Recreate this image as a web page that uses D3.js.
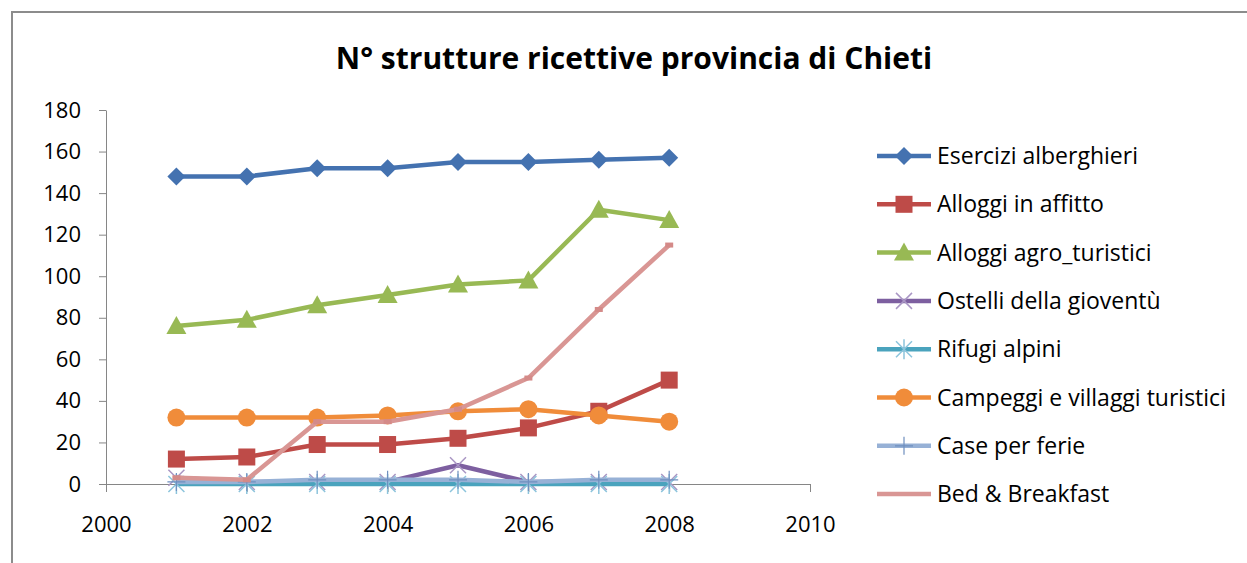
<!DOCTYPE html>
<html>
<head>
<meta charset="utf-8">
<script src="https://cdn.jsdelivr.net/npm/d3@7"></script>
<style>
  body { margin: 0; background: #fff; }
  svg text { font-family: "Open Sans", "Noto Sans", sans-serif; fill: #000; }
</style>
</head>
<body>
<div id="chart"></div>
<script>
// data
const years = [2001, 2002, 2003, 2004, 2005, 2006, 2007, 2008];
const xTicks = [2000, 2002, 2004, 2006, 2008, 2010];
const yTicks = [0, 20, 40, 60, 80, 100, 120, 140, 160, 180];

const esercizi   = [148, 148, 152, 152, 155, 155, 156, 157];
const affitto    = [12, 13, 19, 19, 22, 27, 35, 50];
const agro       = [76, 79, 86, 91, 96, 98, 132, 127];
const ostelli    = [3, 1, 1, 1, 9, 1, 1, 1];
const rifugi     = [0, 0, 0, 0, 0, 0, 0, 0];
const campeggi   = [32, 32, 32, 33, 35, 36, 33, 30];
const caseFerie  = [1, 1, 2, 2, 2, 1, 2, 2];
const bnb        = [3, 2, 30, 30, 36, 51, 84, 115];

const series = [
  { name: "Esercizi alberghieri", values: esercizi, color: "#4472b0", marker: "diamond" },
  { name: "Alloggi in affitto", values: affitto, color: "#be4b48", marker: "square" },
  { name: "Alloggi agro_turistici", values: agro, color: "#98b954", marker: "triangle" },
  { name: "Ostelli della gioventù", values: ostelli, color: "#7d5fa0", marker: "x", markerColor: "#a996c4" },
  { name: "Rifugi alpini", values: rifugi, color: "#4aa3bd", marker: "star", markerColor: "#8cc4dc" },
  { name: "Campeggi e villaggi turistici", values: campeggi, color: "#f08c3a", marker: "circle" },
  { name: "Case per ferie", values: caseFerie, color: "#97b1d6", marker: "plus", markerColor: "#6f8fbf" },
  { name: "Bed & Breakfast", values: bnb, color: "#d99694", marker: "dash" }
];

const W = 1247, H = 563;
const svg = d3.select("#chart").append("svg")
  .attr("width", W).attr("height", H);

// frame
svg.append("rect")
  .attr("x", 12).attr("y", 12)
  .attr("width", W + 20).attr("height", H + 20)
  .attr("fill", "#fff")
  .attr("stroke", "#8c8c8c")
  .attr("stroke-width", 2);

// title
svg.append("text")
  .attr("x", 634).attr("y", 69)
  .attr("text-anchor", "middle")
  .style("font-size", "30px")
  .style("font-weight", "700")
  .text("N° strutture ricettive provincia di Chieti");

const x = d3.scaleLinear().domain([2000, 2010]).range([106, 810]);
const y = d3.scaleLinear().domain([0, 180]).range([484, 110]);

// axes
svg.append("g")
  .attr("transform", "translate(106,0)")
  .call(d3.axisLeft(y).tickValues(yTicks).tickSize(7).tickPadding(18).tickSizeOuter(0))
  .call(g => g.selectAll("line, path").attr("stroke", "#868686"))
  .call(g => g.selectAll("text").style("font-size", "22px").attr("fill", "#000"));

svg.append("g")
  .attr("transform", "translate(0,484)")
  .call(d3.axisBottom(x).tickValues(xTicks).tickFormat(d3.format("d")).tickSize(8).tickPadding(24).tickSizeOuter(0))
  .call(g => g.selectAll("line, path").attr("stroke", "#868686"))
  .call(g => g.selectAll("text").style("font-size", "22px").attr("fill", "#000"));

// markers
function drawMarker(g, type, color, mColor) {
  const mc = mColor || color;
  if (type === "diamond") {
    g.append("path").attr("d", "M0,-9L9,0L0,9L-9,0Z").attr("fill", color);
  } else if (type === "square") {
    g.append("rect").attr("x", -8.5).attr("y", -8.5).attr("width", 17).attr("height", 17).attr("fill", color);
  } else if (type === "triangle") {
    g.append("path").attr("d", "M0,-10L10,8L-10,8Z").attr("fill", color);
  } else if (type === "circle") {
    g.append("circle").attr("r", 9).attr("fill", color);
  } else if (type === "x") {
    g.append("path").attr("d", "M-8,-8L8,8M-8,8L8,-8").attr("stroke", mc).attr("stroke-width", 1.5);
  } else if (type === "star") {
    g.append("path").attr("d", "M-8,-8L8,8M-8,8L8,-8M0,-10L0,10").attr("stroke", mc).attr("stroke-width", 1.5);
  } else if (type === "plus") {
    g.append("path").attr("d", "M0,-9L0,9M-9,0L9,0").attr("stroke", mc).attr("stroke-width", 1.2);
  } else if (type === "dash") {
    g.append("rect").attr("x", -4).attr("y", -2.5).attr("width", 8).attr("height", 5).attr("fill", "#d48a88");
  }
}

const line = d3.line()
  .x((d, i) => x(years[i]))
  .y(d => y(d));

// series order, later ones on top
for (const s of series) {
  const g = svg.append("g");
  g.append("path")
    .datum(s.values)
    .attr("d", line)
    .attr("fill", "none")
    .attr("stroke", s.color)
    .attr("stroke-width", 4.5)
    .attr("stroke-linejoin", "round");
  s.values.forEach((v, i) => {
    const m = g.append("g").attr("transform", `translate(${x(years[i])},${y(v)})`);
    drawMarker(m, s.marker, s.color, s.markerColor);
  });
}

// legend
const legend = svg.append("g");
series.forEach((s, i) => {
  const ly = 156 + i * 48.3;
  const row = legend.append("g").attr("transform", `translate(0,${ly})`);
  row.append("line")
    .attr("x1", 877).attr("x2", 931)
    .attr("stroke", s.color).attr("stroke-width", 4.5);
  const m = row.append("g").attr("transform", "translate(904,0)");
  if (s.marker !== "dash") drawMarker(m, s.marker, s.color, s.markerColor);
  row.append("text")
    .attr("x", 937).attr("y", 0)
    .attr("dy", "0.35em")
    .style("font-size", "23px")
    .text(s.name);
});
</script>
</body>
</html>
